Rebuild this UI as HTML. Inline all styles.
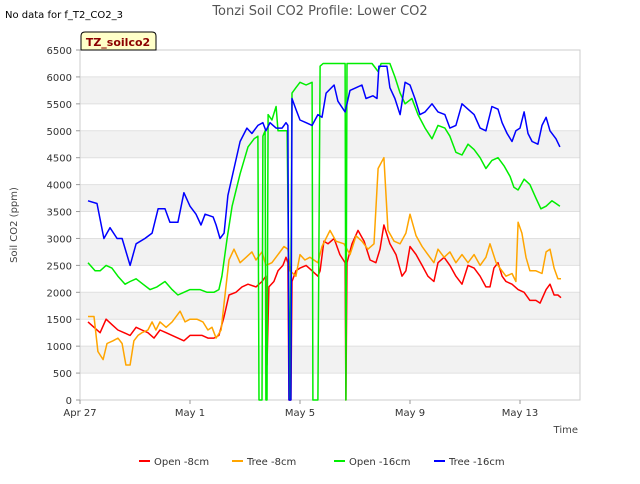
<!DOCTYPE html>
<html><head><meta charset="utf-8"><style>
body{margin:0;background:#fff;font-family:"DejaVu Sans","Liberation Sans",sans-serif}
svg text{font-family:"DejaVu Sans","Liberation Sans",sans-serif}
</style></head><body>
<svg id="chart" width="640" height="480" xmlns="http://www.w3.org/2000/svg">
<rect width="640" height="480" fill="#fff"/>
<text x="5" y="18" font-size="10" fill="#000">No data for f_T2_CO2_3</text>
<text x="320" y="15" font-size="13" fill="#555" text-anchor="middle">Tonzi Soil CO2 Profile: Lower CO2</text>
<g id="bands"></g><g id="grid"></g>
<rect x="80" y="50" width="500" height="350" fill="none" stroke="#ccc"/>
<g id="series"></g><g id="axes"></g>
<g>
<path d="M81 50 L81 36 Q81 32 85 32 L152 32 Q156 32 156 36 L156 50 Z" fill="#ffffc8" stroke="#000" stroke-width="1"/>
<text x="118" y="46" font-size="11" font-weight="bold" fill="#8b0000" text-anchor="middle">TZ_soilco2</text></g>
<text x="17" y="225" font-size="10" fill="#444" text-anchor="middle" transform="rotate(-90 17 225)">Soil CO2 (ppm)</text>
<text x="578" y="433" font-size="10" fill="#444" text-anchor="end">Time</text>
<g id="legend"></g>
</svg>
<script>
const xTickLabels=["Apr 27","May 1","May 5","May 9","May 13"];
const xTickDays=[0,4,8,12,16];
const yTicks=[0,500,1000,1500,2000,2500,3000,3500,4000,4500,5000,5500,6000,6500];
const seriesNames=["Open -8cm","Tree -8cm","Open -16cm","Tree -16cm"];
const seriesColors=["#ff0000","#ffa500","#00ee00","#0000ff"];
const redDays=[.29,.51,.73,.95,1.16,1.38,1.6,1.82,2.04,2.25,2.47,2.69,2.91,3.13,3.35,3.56,3.78,4.0,4.22,4.44,4.65,4.87,5.05,5.24,5.42,5.67,5.89,6.11,6.4,6.62,6.76,6.8,6.87,7.05,7.2,7.38,7.49,7.56,7.6,7.67,7.71,7.85,8.0,8.22,8.44,8.65,8.73,8.87,9.02,9.24,9.45,9.64,9.67,9.71,9.89,10.11,10.33,10.55,10.76,10.91,11.05,11.27,11.49,11.71,11.85,12.0,12.22,12.44,12.65,12.87,13.02,13.24,13.45,13.67,13.89,14.11,14.33,14.55,14.76,14.91,15.05,15.2,15.35,15.49,15.71,15.93,16.15,16.36,16.58,16.73,16.95,17.09,17.24,17.38,17.49];
const redVals=[1450,1350,1250,1500,1400,1300,1250,1200,1350,1300,1250,1150,1300,1250,1200,1150,1100,1200,1200,1200,1150,1150,1200,1550,1950,2000,2100,2150,2100,2200,2300,650,2100,2200,2400,2500,2650,2550,0,0,2200,2400,2450,2500,2400,2300,2400,2950,2900,3000,2700,2550,0,2550,2900,3150,2950,2600,2550,2800,3250,2900,2700,2300,2400,2850,2700,2500,2300,2200,2550,2650,2500,2300,2150,2500,2450,2300,2100,2100,2450,2550,2300,2200,2150,2050,2000,1850,1850,1800,2050,2150,1950,1950,1900];
const orangeDays=[.29,.51,.65,.84,.98,1.2,1.38,1.53,1.67,1.82,1.96,2.11,2.25,2.47,2.62,2.76,2.91,3.13,3.35,3.64,3.82,4.0,4.25,4.47,4.65,4.8,4.95,5.13,5.24,5.42,5.6,5.82,6.04,6.25,6.4,6.62,6.76,6.98,7.2,7.42,7.56,7.64,7.85,8.0,8.18,8.36,8.65,8.8,9.09,9.31,9.6,9.82,10.04,10.25,10.47,10.69,10.84,11.05,11.2,11.42,11.64,11.85,12.0,12.22,12.44,12.65,12.87,13.02,13.24,13.45,13.67,13.89,14.11,14.33,14.55,14.76,14.91,15.13,15.27,15.49,15.71,15.85,15.93,16.07,16.22,16.36,16.58,16.8,16.95,17.09,17.24,17.38,17.49];
const orangeVals=[1550,1550,900,750,1050,1100,1150,1050,650,650,1100,1200,1250,1300,1450,1300,1450,1350,1450,1650,1450,1500,1500,1450,1300,1350,1150,1300,1800,2600,2800,2550,2650,2750,2600,2750,2500,2550,2700,2850,2800,2400,2300,2700,2600,2650,2550,2850,3150,2950,2900,2700,3050,2950,2800,2900,4300,4500,3150,2950,2900,3100,3450,3050,2850,2700,2550,2800,2650,2750,2550,2700,2550,2700,2500,2650,2900,2550,2450,2300,2350,2200,3300,3100,2650,2400,2400,2350,2750,2800,2450,2250,2250];
const greenDays=[.29,.55,.73,.95,1.16,1.38,1.64,1.82,2.04,2.29,2.55,2.8,3.09,3.35,3.56,3.78,4.0,4.36,4.62,4.87,5.05,5.16,5.35,5.53,5.82,6.11,6.33,6.47,6.51,6.62,6.65,6.73,6.76,6.8,6.84,6.98,7.13,7.2,7.42,7.53,7.64,7.71,7.85,8.0,8.22,8.44,8.47,8.65,8.73,8.84,9.09,9.64,9.67,9.71,10.18,10.62,10.84,10.95,11.27,11.45,11.64,11.82,12.07,12.29,12.55,12.8,13.02,13.27,13.45,13.67,13.89,14.11,14.33,14.55,14.76,14.98,15.2,15.42,15.64,15.78,15.93,16.15,16.36,16.58,16.76,16.95,17.16,17.31,17.45];
const greenVals=[2550,2400,2400,2500,2450,2300,2150,2200,2250,2150,2050,2100,2200,2050,1950,2000,2050,2050,2000,2000,2050,2300,3000,3600,4200,4700,4850,4900,0,0,4900,5000,0,0,5300,5200,5450,5000,5000,5000,0,5700,5800,5900,5850,5900,0,0,6200,6250,6250,6250,0,6250,6250,6250,6100,6250,6250,6000,5700,5500,5600,5300,5050,4850,5100,5050,4900,4600,4550,4750,4650,4500,4300,4450,4500,4350,4150,3950,3900,4100,4000,3750,3550,3600,3700,3650,3600];
const blueDays=[.29,.62,.87,1.09,1.35,1.53,1.82,2.04,2.36,2.62,2.84,3.09,3.27,3.56,3.78,4.0,4.22,4.4,4.55,4.84,4.95,5.09,5.24,5.38,5.6,5.82,6.07,6.25,6.47,6.65,6.76,6.91,7.13,7.35,7.49,7.56,7.6,7.67,7.71,7.85,8.0,8.22,8.44,8.65,8.8,8.95,9.24,9.38,9.64,9.82,10.04,10.25,10.4,10.65,10.8,10.87,11.16,11.27,11.45,11.64,11.82,12.0,12.18,12.36,12.55,12.8,13.02,13.27,13.45,13.67,13.89,14.11,14.33,14.55,14.76,14.98,15.2,15.35,15.53,15.71,15.85,16.0,16.15,16.29,16.44,16.65,16.8,16.95,17.09,17.31,17.45];
const blueVals=[3700,3650,3000,3200,3000,3000,2500,2900,3000,3100,3550,3550,3300,3300,3850,3600,3450,3250,3450,3400,3250,3000,3100,3800,4300,4800,5050,4950,5100,5150,5000,5150,5050,5050,5150,5100,0,0,5600,5400,5200,5150,5100,5300,5250,5700,5850,5550,5350,5750,5800,5850,5600,5650,5600,6200,6200,5800,5600,5300,5900,5850,5600,5300,5350,5500,5350,5300,5050,5100,5500,5400,5300,5050,5000,5450,5400,5150,4950,4800,5000,5050,5350,4950,4800,4750,5100,5250,5000,4850,4700];
const seriesDays=[redDays,orangeDays,greenDays,blueDays];
const seriesVals=[redVals,orangeVals,greenVals,blueVals];
const NS="http://www.w3.org/2000/svg";
const X0=80,X1=580,Y0=400,Y1=50,DMAX=500/27.5,VMAX=6500;
const xs=d=>X0+d/DMAX*(X1-X0), ys=v=>Y0-v/VMAX*(Y0-Y1);
function mk(t,a,p){const e=document.createElementNS(NS,t);for(const k in a)e.setAttribute(k,a[k]);p.appendChild(e);return e;}
const bands=document.getElementById('bands'),grid=document.getElementById('grid'),axes=document.getElementById('axes');
for(let v=500;v<6500;v+=1000){const r=mk('rect',{x:X0,y:ys(v+500),width:X1-X0,height:ys(v)-ys(v+500),fill:'#f2f2f2'},bands);

}
yTicks.forEach(v=>{const l=mk('line',{x1:X0,x2:X1,y1:ys(v),y2:ys(v),stroke:'#e0e0e0'},grid);


mk('line',{x1:X0-4,x2:X0,y1:ys(v),y2:ys(v),stroke:'#999'},axes);
const t=mk('text',{x:X0-8,y:ys(v)+4,'font-size':10,fill:'#333','text-anchor':'end'},axes);t.textContent=v;

});
xTickDays.forEach((d,i)=>{mk('line',{x1:xs(d),x2:xs(d),y1:Y0,y2:Y0+4,stroke:'#999'},axes);
const t=mk('text',{x:xs(d),y:Y0+16,'font-size':10,fill:'#333','text-anchor':'middle'},axes);t.textContent=xTickLabels[i];

});
const sg=document.getElementById('series');
seriesVals.forEach((vals,i)=>{const pts=vals.map((v,j)=>xs(seriesDays[i][j]).toFixed(1)+','+ys(v).toFixed(1)).join(' ');
const p=mk('polyline',{points:pts,fill:'none',stroke:seriesColors[i],'stroke-width':1.5,'stroke-linejoin':'round'},sg);

});
const lg=document.getElementById('legend');const lx=[139,232,334,434];
seriesNames.forEach((n,i)=>{const g=mk('g',{},lg);


mk('line',{x1:lx[i],x2:lx[i]+11,y1:461,y2:461,stroke:seriesColors[i],'stroke-width':2},g);
const t=mk('text',{x:lx[i]+15,y:465,'font-size':10,fill:'#333'},g);t.textContent=n;});
</script>
</body></html>
